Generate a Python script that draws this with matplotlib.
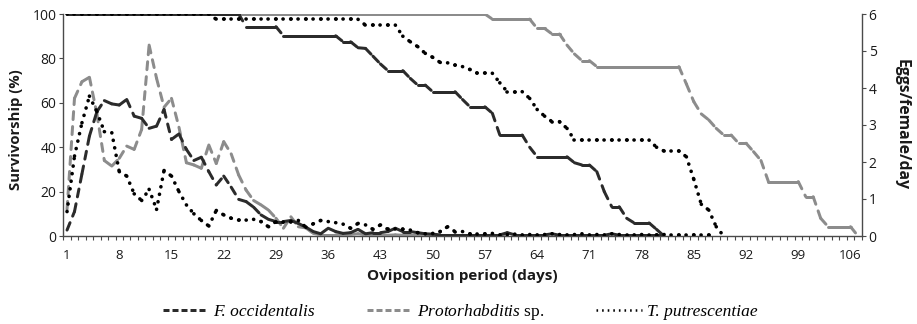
import numpy as np
import matplotlib
matplotlib.use("Agg")
import matplotlib.pyplot as plt
from matplotlib.collections import LineCollection
from matplotlib.lines import Line2D

plt.rcParams['lines.scale_dashes'] = False
plt.rcParams['font.family'] = ['Open Sans', 'DejaVu Sans']
plt.rcParams['mathtext.fontset'] = 'custom'
plt.rcParams['mathtext.it'] = 'Liberation Serif:italic'
plt.rcParams['mathtext.rm'] = 'Liberation Serif'

# ---------------- data ----------------
series_names = ["F. occidentalis", "Protorhabditis sp.", "T. putrescentiae"]
x_tick_days = list(range(1, 107, 7))
left_ticks = [0, 20, 40, 60, 80, 100]
right_ticks = [0, 1, 2, 3, 4, 5, 6]

# survivorship (%) per day, starting at day 1
surv_focc = ([100] * 24 + [94.3] * 5 + [90.2] * 8 +
             [87.5, 87.5, 84.8, 84.5, 81, 77.5, 74.5, 74.5, 74.5, 71, 68, 68,
              65, 65, 65, 65, 61.5, 58.2, 58.2, 58.2, 55.3, 45.5, 45.5, 45.5,
              45.5, 40, 35.7, 35.7, 35.7, 35.7, 35.7, 33, 32, 32, 29, 20,
              13.2, 13.2, 8, 5.9, 5.9, 5.9, 3, 0])
surv_proto = ([100] * 57 + [97.7] * 6 +
              [93.5, 93.5, 91, 91, 86, 82, 79, 79] + [76.3] * 12 +
              [68.5, 60.5, 55, 52.3, 48.5, 45.5, 45.5, 41.8, 41.8, 38, 34,
               24.5, 24.5, 24.5, 24.5, 24.5, 17.7, 17.7, 8, 4.2, 4.2, 4.2,
               4.2, 0])
surv_tput = ([100] * 20 + [97.6] * 20 + [95] * 5 +
             [90, 87.5, 85.3, 82.3, 80.5, 78.2, 78, 77, 76.3, 75, 73.3, 73.3,
              73.3, 69, 65, 65, 65, 62, 57, 54, 51.5, 51.5, 48.5] +
             [43.2] * 11 + [40, 38.3, 38.3, 38.3, 35.7, 25.5, 14.3, 11.7,
                            4.2, 0])

# eggs / female / day, starting at day 1
eggs_focc = [0.16, 0.66, 1.68, 2.70, 3.36, 3.66, 3.57, 3.54, 3.69, 3.24,
             3.18, 2.91, 2.97, 3.42, 2.61, 2.76, 2.34, 2.04, 2.13, 1.74,
             1.38, 1.62, 1.32, 0.99, 0.93, 0.78, 0.57, 0.45, 0.39, 0.39,
             0.42, 0.34, 0.24, 0.12, 0.06, 0.21, 0.12, 0.07, 0.09, 0.18,
             0.06, 0.09, 0.09, 0.12, 0.21, 0.12, 0.12, 0.09, 0.06, 0.05,
             0.03, 0.03, 0.03, 0.03, 0.03, 0.03, 0.03, 0.03, 0.03, 0.09,
             0.03, 0.03, 0.03, 0.03, 0.03, 0.06, 0.02, 0.02, 0.02, 0.02,
             0.02, 0.02, 0.02, 0.06, 0.02, 0.02, 0.02, 0.02, 0.02, 0.02, 0]
eggs_proto = [0.72, 3.72, 4.17, 4.29, 3.30, 2.04, 1.89, 2.10, 2.43, 2.34,
              2.88, 5.16, 4.26, 3.48, 3.72, 2.94, 1.98, 1.92, 1.83, 2.46,
              1.96, 2.55, 2.22, 1.65, 1.24, 0.96, 0.84, 0.70, 0.48, 0.21,
              0.52, 0.25, 0.22, 0.07, 0.03, 0.03, 0.03, 0.02, 0.04, 0.06,
              0.03, 0.02, 0.02, 0.02, 0.03, 0.02, 0.02, 0.02, 0.02, 0.02,
              0.01, 0.01, 0.01, 0.01, 0.01, 0.01, 0.01, 0.01, 0.01, 0]
eggs_tput = [0.66, 2.16, 3.06, 3.78, 3.36, 2.82, 2.79, 1.74, 1.62, 1.14,
             0.96, 1.26, 0.72, 1.77, 1.62, 1.20, 0.84, 0.60, 0.42, 0.27,
             0.69, 0.57, 0.48, 0.43, 0.43, 0.45, 0.39, 0.25, 0.39, 0.39,
             0.39, 0.42, 0.24, 0.33, 0.42, 0.39, 0.36, 0.32, 0.21, 0.34,
             0.30, 0.18, 0.30, 0.18, 0.18, 0.18, 0.16, 0.09, 0.06, 0.07,
             0.12, 0.25, 0.12, 0.12, 0.06, 0.06, 0.06, 0.07, 0.03, 0.04,
             0.05, 0.03, 0.04, 0.03, 0.04, 0.06, 0.04, 0.03, 0.04, 0.06,
             0.03, 0.04, 0.03, 0.06, 0.04, 0.03, 0.03, 0.04, 0.03, 0.03,
             0.04, 0.03, 0.03, 0.03, 0.03, 0.02, 0.02, 0.02]

# ---------------- style ----------------
DARK = '#2b2b2b'
GRAY = '#8c8c8c'
BLACK = '#000000'
PX = 0.72  # points per pixel at dpi 100
LW = 3 * PX
DASH = (8 * PX, 7 * PX)     # round caps -> ~11px dash, ~4px gap
DOT = (0.1, 7.5 * PX)


def seg_plot(axis, y, color, lw, pattern, z):
    """Draw a series segment by segment so the dash pattern restarts
    at every data point (as in the original spreadsheet chart)."""
    y = np.asarray(y, float)
    x = np.arange(1, len(y) + 1, dtype=float)
    pts = np.column_stack([x, y])
    segs = np.stack([pts[:-1], pts[1:]], axis=1)
    lc = LineCollection(segs, colors=color, linewidths=lw,
                        linestyles=[(0, pattern)], capstyle='round',
                        joinstyle='round', zorder=z)
    axis.add_collection(lc)
    return lc


fig = plt.figure(figsize=(9.17, 3.24), dpi=100)
ax = fig.add_axes([63.3 / 917, 88 / 324, 798.4 / 917, 222 / 324])
ax2 = ax.twinx()

# survivorship (left axis)
seg_plot(ax, surv_proto, GRAY, LW, DASH, 2)
seg_plot(ax, surv_focc, DARK, LW, DASH, 3)
seg_plot(ax, surv_tput, BLACK, 2.6, DOT, 4)

# eggs (right axis)
seg_plot(ax2, eggs_proto, GRAY, LW, DASH, 2)
seg_plot(ax2, eggs_focc, DARK, LW, DASH, 3)
seg_plot(ax2, eggs_tput, BLACK, 2.6, DOT, 4)

ax.set_xlim(0.5, 107.5)
ax.set_ylim(0, 100)
ax2.set_ylim(0, 6)

SPINE = '#4a4a4a'
TXT = '#1a1a1a'
for a in (ax, ax2):
    a.spines['top'].set_visible(False)
ax.spines['right'].set_visible(False)
ax2.spines['left'].set_visible(False)
ax2.spines['bottom'].set_visible(False)
for s in ('left', 'bottom'):
    ax.spines[s].set_color(SPINE)
    ax.spines[s].set_linewidth(1.0)
ax2.spines['right'].set_color(SPINE)
ax2.spines['right'].set_linewidth(1.0)

ax.set_xticks(x_tick_days)
ax.set_xticks(np.arange(0.5, 108, 1), minor=True)
ax.tick_params(axis='x', which='major', length=0, pad=9.5, labelsize=9.5,
               labelcolor=TXT)
ax.tick_params(axis='x', which='minor', length=3, width=0.8, color=SPINE,
               direction='out')
ax.set_yticks(left_ticks)
ax.tick_params(axis='y', which='major', length=3, width=0.8, color=SPINE,
               direction='out', pad=2, labelsize=10, labelcolor=TXT)
ax2.set_yticks(right_ticks)
ax2.tick_params(axis='y', which='major', length=3, width=0.8, color=SPINE,
                direction='out', pad=2, labelsize=10, labelcolor=TXT)

ax.set_xlabel('Oviposition period (days)', fontsize=11,
              fontweight='bold', color=TXT)
ax.xaxis.set_label_coords(0.5, -(276 - 236) / 222)
ax.xaxis.label.set_va('center')
ax.set_ylabel('Survivorship (%)', fontsize=10.7, fontweight='bold',
              color=TXT)
ax.yaxis.set_label_coords(-(63.3 - 16) / 798.4, 0.48)
ax.yaxis.label.set_va('center')
ax2.set_ylabel('Eggs/female/day', fontsize=11.3, fontweight='bold',
               color=TXT, rotation=-90)
ax2.yaxis.set_label_coords((902 - 63.3) / 798.4, 0.5)
ax2.yaxis.label.set_va('center')

handles = [
    Line2D([], [], color=DARK, lw=LW, dashes=(6 * PX, 3 * PX),
           dash_capstyle='butt'),
    Line2D([], [], color=GRAY, lw=LW, dashes=(6 * PX, 3 * PX),
           dash_capstyle='butt'),
    Line2D([], [], color=BLACK, lw=1.8, dashes=(1.6 * PX, 4 * PX),
           dash_capstyle='butt'),
]
labels = [series_names[0],
          r'$\mathit{Protorhabditis}$ sp.',
          series_names[2]]
leg = fig.legend(handles, labels, loc='center',
                 bbox_to_anchor=(460 / 917, 1 - 312 / 324),
                 ncol=3, frameon=False,
                 prop={'family': 'Liberation Serif', 'size': 12.5},
                 handlelength=2.6, handletextpad=0.3, columnspacing=3.0,
                 borderaxespad=0, borderpad=0)
leg.get_texts()[0].set_fontstyle('italic')
leg.get_texts()[2].set_fontstyle('italic')

fig.savefig('out.png', dpi=100)
